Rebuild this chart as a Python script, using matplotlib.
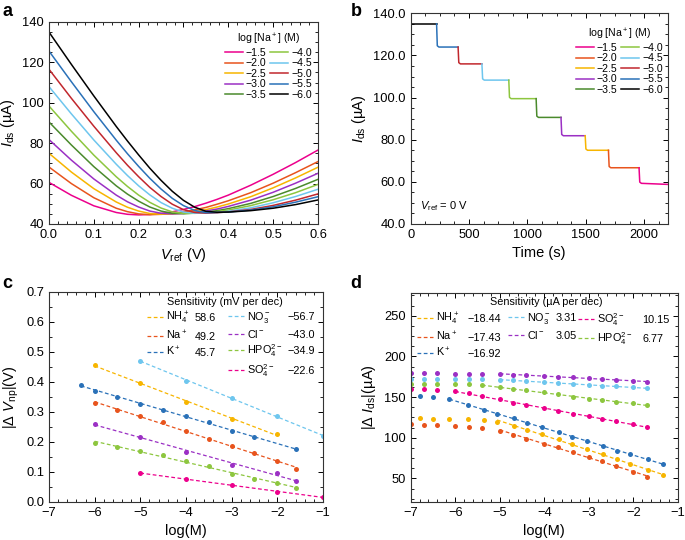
import matplotlib
matplotlib.use('Agg')
import matplotlib.pyplot as plt
from matplotlib.ticker import AutoMinorLocator, MultipleLocator, FormatStrFormatter
from matplotlib.legend import Legend
import numpy as np

plt.rcParams['font.family'] = ['Liberation Sans', 'DejaVu Sans']
plt.rcParams['mathtext.fontset'] = 'custom'
plt.rcParams['mathtext.rm'] = 'Liberation Sans'
plt.rcParams['mathtext.it'] = 'Liberation Sans:italic'
plt.rcParams['mathtext.bf'] = 'Liberation Sans:bold'
plt.rcParams['font.size'] = 9.3
plt.rcParams['axes.labelsize'] = 10.5
plt.rcParams['axes.linewidth'] = 0.8
plt.rcParams['axes.edgecolor'] = '#333333'

PINK = '#EC008C'
ORANGE = '#E8541D'
YELLOW = '#F7B500'
PURPLE = '#9B30C4'
DGREEN = '#4A8A2C'
LGREEN = '#8DC63F'
LBLUE = '#6EC6EE'
DRED = '#C1272D'
BLUE = '#2A71B8'
BLACK = '#000000'

# ---- panel a: transfer curves
v_ref = [0.0, 0.05, 0.10, 0.15, 0.175, 0.20, 0.225, 0.25, 0.275, 0.30, 0.325, 0.35,
         0.375, 0.40, 0.45, 0.50, 0.55, 0.60]
ids_m15 = [60.6, 54.2, 49.0, 45.7, 44.8, 44.5, 44.7, 45.2, 46.0, 47.2, 48.6, 50.3, 52.2,
           54.3, 59.2, 64.6, 70.4, 76.6]
ids_m20 = [68.2, 60.0, 53.0, 47.8, 46.1, 45.0, 44.6, 44.8, 45.2, 45.9, 47.0, 48.2, 49.8,
           51.5, 55.5, 60.2, 65.4, 70.9]
ids_m25 = [75.0, 65.7, 57.5, 50.9, 48.3, 46.4, 45.2, 44.8, 45.0, 45.4, 46.1, 47.1, 48.4,
           49.9, 53.5, 57.9, 62.8, 68.1]
ids_m30 = [81.8, 71.6, 62.3, 54.3, 51.0, 48.4, 46.4, 45.3, 45.0, 45.2, 45.7, 46.4, 47.4,
           48.7, 51.8, 55.7, 60.2, 65.1]
ids_m35 = [90.5, 79.1, 68.4, 58.9, 54.8, 51.3, 48.4, 46.4, 45.3, 45.1, 45.4, 45.9, 46.6,
           47.6, 50.2, 53.6, 57.6, 62.1]
ids_m40 = [98.4, 85.9, 74.1, 63.4, 58.6, 54.3, 50.7, 47.9, 46.0, 45.2, 45.3, 45.6, 46.1,
           46.9, 49.1, 52.0, 55.5, 59.6]
ids_m45 = [108.0, 94.5, 81.6, 69.6, 64.0, 58.9, 54.4, 50.6, 47.8, 45.9, 45.3, 45.4, 45.7,
           46.3, 48.0, 50.5, 53.6, 57.2]
ids_m50 = [116.6, 102.2, 88.4, 75.3, 69.1, 63.4, 58.1, 53.6, 49.8, 47.1, 45.7, 45.4, 45.6,
           46.0, 47.2, 49.2, 51.8, 54.9]
ids_m55 = [125.6, 110.4, 95.6, 81.5, 74.8, 68.5, 62.6, 57.3, 52.7, 49.1, 46.7, 45.6, 45.7,
           45.9, 46.9, 48.5, 50.8, 53.5]
ids_m60 = [135.0, 119.0, 103.4, 88.3, 81.1, 74.2, 67.6, 61.6, 56.2, 51.7, 48.3, 46.3, 45.8,
           45.9, 46.6, 47.8, 49.6, 51.9]

na_labels = ['−1.5', '−2.0', '−2.5', '−3.0', '−3.5', '−4.0', '−4.5', '−5.0', '−5.5', '−6.0']
na_colors = [PINK, ORANGE, YELLOW, PURPLE, DGREEN, LGREEN, LBLUE, DRED, BLUE, BLACK]
na_curves = [ids_m15, ids_m20, ids_m25, ids_m30, ids_m35,
             ids_m40, ids_m45, ids_m50, ids_m55, ids_m60]

# ---- panel b: time trace, steps from -6.0 down to -1.5
step_times = [0, 222, 406, 610, 840, 1074, 1287, 1494, 1693, 1955]
step_levels = [135.0, 124.0, 116.0, 108.3, 99.5, 90.6, 81.9, 75.0, 66.7, 59.3]
t_end = 2200
last_level_end = 58.8

# ---- panel c: |dV_np| vs log(M)
c_nh4_x = [-6, -5, -4, -3, -2]
c_nh4_y = [0.457, 0.396, 0.332, 0.275, 0.227]
c_na_x = [-6, -5.5, -5, -4.5, -4, -3.5, -3, -2.5, -2, -1.6]
c_na_y = [0.329, 0.306, 0.287, 0.265, 0.238, 0.210, 0.185, 0.163, 0.137, 0.111]
c_k_x = [-6.3, -6, -5.5, -5, -4.5, -4, -3.5, -3, -2.5, -1.6]
c_k_y = [0.390, 0.371, 0.350, 0.326, 0.307, 0.288, 0.265, 0.235, 0.217, 0.177]
c_no3_x = [-5, -4, -3, -2, -1]
c_no3_y = [0.471, 0.404, 0.346, 0.285, 0.221]
c_cl_x = [-6, -5, -4, -3, -2, -1.6]
c_cl_y = [0.260, 0.216, 0.168, 0.124, 0.096, 0.070]
c_hpo4_x = [-6, -5.5, -5, -4.5, -4, -3.5, -3, -2.5, -2, -1.6]
c_hpo4_y = [0.196, 0.183, 0.171, 0.155, 0.136, 0.119, 0.094, 0.078, 0.063, 0.047]
c_so4_x = [-5, -4, -3, -2, -1]
c_so4_y = [0.096, 0.076, 0.058, 0.033, 0.016]

# ---- panel d: |dI_ds| vs log(M)
d_x = [-7, -6.7, -6.4, -6, -5.7, -5.4, -5, -4.7, -4.4, -4, -3.7, -3.35, -3, -2.7, -2.4, -2, -1.7]
d_x_k = [-6.8, -6.5, -6.13, -5.71, -5.36, -5.06, -4.68, -4.38, -4.06, -3.67, -3.37,
         -3.05, -2.68, -2.36, -2.07, -1.67, -1.33]
d_cl = [179.8, 179.4, 179.4, 179.0, 179.0, 178.6, 178.2, 177.4, 176.9, 176.1, 175.3,
        174.5, 173.3, 172.4, 170.8, 169.6, 168.8]
d_no3 = [172.0, 172.0, 172.0, 172.0, 172.0, 172.0, 171.6, 170.4, 169.6, 168.4, 167.1,
         165.9, 165.1, 163.9, 163.1, 161.8, 161.0]
d_hpo4 = [165.5, 165.5, 165.5, 165.5, 165.5, 164.3, 161.8, 160.2, 158.6, 155.7, 153.3,
          150.4, 148.0, 146.3, 144.3, 142.2, 139.8]
d_so4 = [160.2, 159.4, 158.6, 156.9, 155.3, 151.2, 147.1, 142.7, 139.8, 136.1, 132.4,
         129.2, 126.3, 123.1, 120.6, 116.5, 113.7]
d_k = [151.6, 149.6, 147.1, 140.6, 134.5, 129.2, 123.9, 118.2, 113.3, 107.1, 101.0,
       96.1, 89.6, 84.3, 79.4, 73.3, 67.6]
d_nh4 = [123.9, 123.5, 123.5, 122.7, 122.2, 119.4, 114.9, 110.0, 105.1, 98.2, 92.0,
         85.9, 79.4, 73.3, 67.1, 59.8, 54.5]
d_na = [116.5, 116.1, 115.3, 114.1, 113.3, 111.6, 108.4, 103.9, 99.0, 92.9, 88.4,
        82.7, 76.5, 70.8, 64.7, 58.2, 51.6]

ion_names = {'nh4': r'NH$_4^+$', 'na': r'Na$^+$', 'k': r'K$^+$', 'no3': r'NO$_3^-$',
             'cl': r'Cl$^-$', 'hpo4': r'HPO$_4^{2-}$', 'so4': r'SO$_4^{2-}$'}
ion_colors = {'nh4': YELLOW, 'na': ORANGE, 'k': BLUE, 'no3': LBLUE,
              'cl': PURPLE, 'hpo4': LGREEN, 'so4': PINK}
c_sens = {'nh4': '58.6', 'na': '49.2', 'k': '45.7', 'no3': '−56.7',
          'cl': '−43.0', 'hpo4': '−34.9', 'so4': '−22.6'}
d_sens = {'nh4': '−18.44', 'na': '−17.43', 'k': '−16.92', 'no3': '3.31',
          'cl': '3.05', 'so4': '10.15', 'hpo4': '6.77'}

DASH = (0, (3, 2))
FS_LEG = 7.8
FS_NA = 7.6


def style_axes(ax, xminor, yminor):
    ax.tick_params(which='both', direction='in', top=True, right=True, labelsize=9.3)
    ax.tick_params(which='major', length=3.5, width=0.7)
    ax.tick_params(which='minor', length=2, width=0.6)
    ax.xaxis.set_minor_locator(AutoMinorLocator(xminor))
    ax.yaxis.set_minor_locator(AutoMinorLocator(yminor))


def scatter_fit(ax, x, y, color, start=0):
    x = np.array(x)
    y = np.array(y)
    p = np.polyfit(x[start:], y[start:], 1)
    xs = np.array([x[start], x[-1]])
    ax.plot(xs, np.polyval(p, xs), ls=DASH, lw=0.9, color=color)
    ax.plot(x, y, 'o', ms=3.6, color=color, mec='none')
    return p


def column_legend(ax, keys, x, y):
    handles = [plt.Line2D([], [], ls=DASH, lw=0.9, color=ion_colors[k]) for k in keys]
    leg = Legend(ax, handles, [ion_names[k] for k in keys], loc='upper left',
                 bbox_to_anchor=(x, y), bbox_transform=ax.transAxes, frameon=False,
                 fontsize=FS_LEG, handlelength=1.45, handletextpad=0.3,
                 labelspacing=0.25, borderpad=0, borderaxespad=0)
    ax.add_artist(leg)
    return leg


def na_legend(ax, x, y):
    ax.legend(ncol=2, title=r'log [Na$^+$] (M)', loc='upper right',
              bbox_to_anchor=(x, y), frameon=False, fontsize=FS_NA, title_fontsize=FS_NA,
              handlelength=1.7, handletextpad=0.3, columnspacing=0.35,
              labelspacing=0.05, borderpad=0, borderaxespad=0)


fig = plt.figure(figsize=(6.85, 5.4), dpi=100)
ax_a = fig.add_axes([0.0715, 0.5852, 0.3927, 0.3741])
ax_b = fig.add_axes([0.5995, 0.5852, 0.3752, 0.3901])
ax_c = fig.add_axes([0.0715, 0.0704, 0.4000, 0.3889])
ax_d = fig.add_axes([0.5995, 0.0704, 0.3902, 0.3870])

# a
for curve, c, lab in zip(na_curves, na_colors, na_labels):
    ax_a.plot(v_ref, curve, color=c, lw=1.1, label=lab)
ax_a.set_xlim(0, 0.6)
ax_a.set_ylim(40, 140)
ax_a.xaxis.set_major_locator(MultipleLocator(0.1))
ax_a.yaxis.set_major_locator(MultipleLocator(20))
style_axes(ax_a, 5, 4)
ax_a.set_xlabel(r'$V_{\rm ref}$ (V)')
ax_a.set_ylabel(r'$I_{\rm ds}$ (µA)')
na_legend(ax_a, 0.978, 0.95)

# b
b_colors = na_colors[::-1]
for i, lev in enumerate(step_levels):
    t0 = step_times[i]
    t1 = step_times[i + 1] if i + 1 < len(step_times) else t_end
    lev_end = last_level_end if i == len(step_levels) - 1 else lev
    if i == 0:
        xs, ys = [t0, t1], [lev, lev]
    else:
        xs = [t0, t0 + 6, t0 + 20, t1]
        ys = [step_levels[i - 1], lev + 0.6, lev, lev_end]
    ax_b.plot(xs, ys, color=b_colors[i], lw=1.1)
for c, lab in zip(na_colors, na_labels):
    ax_b.plot([], [], color=c, lw=1.1, label=lab)
ax_b.set_xlim(0, 2200)
ax_b.set_ylim(40, 140)
ax_b.xaxis.set_major_locator(MultipleLocator(500))
ax_b.yaxis.set_major_locator(MultipleLocator(20))
ax_b.yaxis.set_major_formatter(FormatStrFormatter('%.1f'))
style_axes(ax_b, 4, 4)
ax_b.set_xlabel('Time (s)')
ax_b.set_ylabel(r'$I_{\rm ds}$ (µA)')
na_legend(ax_b, 0.982, 0.935)
ax_b.text(0.035, 0.07, r'$V_{\rm ref}$ = 0 V', transform=ax_b.transAxes, fontsize=8)

# c
scatter_fit(ax_c, c_nh4_x, c_nh4_y, ion_colors['nh4'])
scatter_fit(ax_c, c_no3_x, c_no3_y, ion_colors['no3'])
scatter_fit(ax_c, c_k_x, c_k_y, ion_colors['k'])
scatter_fit(ax_c, c_na_x, c_na_y, ion_colors['na'])
scatter_fit(ax_c, c_cl_x, c_cl_y, ion_colors['cl'])
scatter_fit(ax_c, c_hpo4_x, c_hpo4_y, ion_colors['hpo4'])
scatter_fit(ax_c, c_so4_x, c_so4_y, ion_colors['so4'])
ax_c.set_xlim(-7, -1)
ax_c.set_ylim(0, 0.7)
ax_c.xaxis.set_major_locator(MultipleLocator(1))
ax_c.yaxis.set_major_locator(MultipleLocator(0.1))
ax_c.yaxis.set_major_formatter(FormatStrFormatter('%.1f'))
style_axes(ax_c, 5, 2)
ax_c.set_xlabel('log(M)')
ax_c.set_ylabel(r'|Δ $V_{\rm np}$|(V)')
ax_c.text(0.642, 0.952, 'Sensitivity (mV per dec)', transform=ax_c.transAxes,
          ha='center', va='center', fontsize=FS_LEG)
c_cols = [(['nh4', 'na', 'k'], 0.358, 0.533), (['no3', 'cl', 'hpo4', 'so4'], 0.653, 0.869)]
c_legs = [(column_legend(ax_c, keys, xh, 0.914), keys, xv) for keys, xh, xv in c_cols]

# d
scatter_fit(ax_d, d_x, d_cl, ion_colors['cl'], 6)
scatter_fit(ax_d, d_x, d_no3, ion_colors['no3'], 6)
scatter_fit(ax_d, d_x, d_hpo4, ion_colors['hpo4'], 5)
scatter_fit(ax_d, d_x, d_so4, ion_colors['so4'], 3)
scatter_fit(ax_d, d_x_k, d_k, ion_colors['k'], 2)
scatter_fit(ax_d, d_x_k, d_nh4, ion_colors['nh4'], 5)
scatter_fit(ax_d, d_x, d_na, ion_colors['na'], 6)
ax_d.set_xlim(-7, -1)
ax_d.set_ylim(21, 278)
ax_d.xaxis.set_major_locator(MultipleLocator(1))
ax_d.yaxis.set_major_locator(MultipleLocator(50))
style_axes(ax_d, 5, 4)
ax_d.set_xlabel('log(M)')
ax_d.set_ylabel(r'|Δ $I_{\rm ds}$|(µA)')
ax_d.text(0.507, 0.957, 'Sensitivity (µA per dec)', transform=ax_d.transAxes,
          ha='center', va='center', fontsize=FS_LEG)
d_cols = [(['nh4', 'na', 'k'], 0.024, 0.211), (['no3', 'cl'], 0.364, 0.544),
          (['so4', 'hpo4'], 0.626, 0.866)]
d_legs = [(column_legend(ax_d, keys, xh, 0.914), keys, xv) for keys, xh, xv in d_cols]

# values next to the legend names, on the same baseline
fig.canvas.draw()
renderer = fig.canvas.get_renderer()
for ax, legs, sens in [(ax_c, c_legs, c_sens), (ax_d, d_legs, d_sens)]:
    for leg, keys, xv in legs:
        for h, k in zip(leg.legend_handles, keys):
            bb = h.get_window_extent(renderer)
            yb = (bb.y0 + bb.y1) / 2 - 0.35 * FS_LEG * fig.dpi / 72
            ya = ax.transAxes.inverted().transform((0, yb))[1]
            ax.text(xv, ya, sens[k], transform=ax.transAxes, va='baseline',
                    fontsize=FS_LEG)

for lab, x, y in [('a', 0.003, 0.995), ('b', 0.512, 0.995),
                  ('c', 0.003, 0.49), ('d', 0.512, 0.49)]:
    fig.text(x, y, lab, fontsize=13, fontweight='bold', va='top')

fig.savefig('out.png', dpi=100)
